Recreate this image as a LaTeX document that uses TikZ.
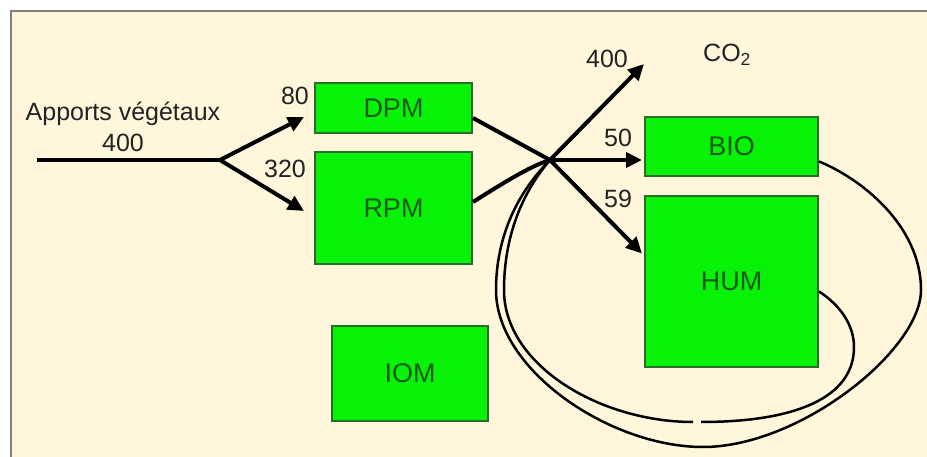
\documentclass[tikz,border=0pt]{standalone}
\usepackage{fontspec}
\setmainfont{Liberation Sans}
\usetikzlibrary{
  arrows.meta,
  positioning,
  calc
}
\definecolor{PaperCream}{RGB}{255,246,220}
\definecolor{FrameGray}{RGB}{128,128,128}
\definecolor{PoolGreen}{RGB}{8,242,8}
\definecolor{PoolEdge}{RGB}{40,110,40}
\definecolor{PoolText}{RGB}{25,90,25}
\definecolor{InkGray}{RGB}{35,35,35}
\tikzset{
  pool/.style={
    draw=PoolEdge,
    fill=PoolGreen,
    line width=2pt,
    text=PoolText,
    font=\fontsize{27}{32}\selectfont,
    inner sep=0pt
  },
  lbl/.style={text=InkGray,font=\fontsize{25}{30}\selectfont,inner sep=0pt,anchor=base},
  flow/.style={-{Triangle[length=16pt,width=15pt]},line width=4pt,draw=black},
  feed/.style={line width=4pt,draw=black},
  loopline/.style={line width=2.5pt,draw=black}
}

\begin{document}
\begin{tikzpicture}[x=1pt,y=-1pt]
  \useasboundingbox (0,0) rectangle (927,457);
  \fill[white] (0,0) rectangle (927,457);
  \fill[PaperCream] (12,12) rectangle (927,457);
  \draw[FrameGray,line width=2pt] (11,457) -- (11,11) -- (927,11);

  % pools
  \node[pool,minimum width=157pt,minimum height=50pt] (DPM) at (393.5,108) {DPM};
  \node[pool,minimum width=157pt,minimum height=112pt] (RPM) at (393.5,208) {RPM};
  \node[pool,minimum width=156pt,minimum height=95pt] (IOM) at (410,373.5) {IOM};
  \node[pool,minimum width=173pt,minimum height=59pt] (BIO) at (731.5,146.5) {BIO};
  \node[pool,minimum width=173pt,minimum height=171pt] (HUM) at (731.5,281.5) {HUM};

  \coordinate (src) at (37,160);
  \coordinate (fork) at (220,160);
  \coordinate (mix) at (550,160);
  \coordinate (co2tip) at (644,64);
  \coordinate (gapR) at (701,422);
  \coordinate (gapL) at (693,422);

  % labels
  \node[lbl] (apports) at (123,121) {Apports végétaux};
  \node[lbl] (in400) at (123,152) {400};
  \node[lbl] (n80) at (295,105) {80};
  \node[lbl] (n320) at (285,178) {320};
  \node[lbl] (out400) at (607,68) {400};
  \node[lbl,anchor=base west] (co2) at (703,62) {CO\textsubscript{2}};
  \node[lbl] (n50) at (618,147) {50};
  \node[lbl] (n59) at (618,208) {59};

  % inputs
  \draw[feed] (src) -- (fork);
  \draw[flow] (fork) -- ([xshift=-10pt,yshift=-9pt]DPM.west);
  \draw[flow] (fork) -- ([xshift=-10pt,yshift=-3pt]RPM.west);

  % decomposition
  \draw[flow] ([yshift=-10pt]DPM.east) -- (mix) -- ([xshift=-2pt,yshift=28pt]HUM.west);
  \draw[flow] ([yshift=6pt]RPM.east) .. controls (500,185) and (530,166) .. (mix) -- (co2tip);
  \draw[flow] (mix) -- ([xshift=-2pt]mix -| BIO.west);

  % recycling loops
  \draw[loopline] ([yshift=-15pt]BIO.east) .. controls (860,178) and (921,225) .. (921,290)
    .. controls (921,350) and (800,447) .. (703,447)
    .. controls (610,447) and (496,370) .. (496,290)
    .. controls (496,240) and (515,195) .. (mix);
  \draw[loopline] ([yshift=-10pt]HUM.east) .. controls (840,305) and (854,325) .. (854,347)
    .. controls (854,398) and (795,422) .. (gapR);
  \draw[loopline] (gapL) .. controls (600,422) and (504,365) .. (504,290)
    .. controls (504,240) and (520,195) .. (mix);
\end{tikzpicture}
\end{document}
